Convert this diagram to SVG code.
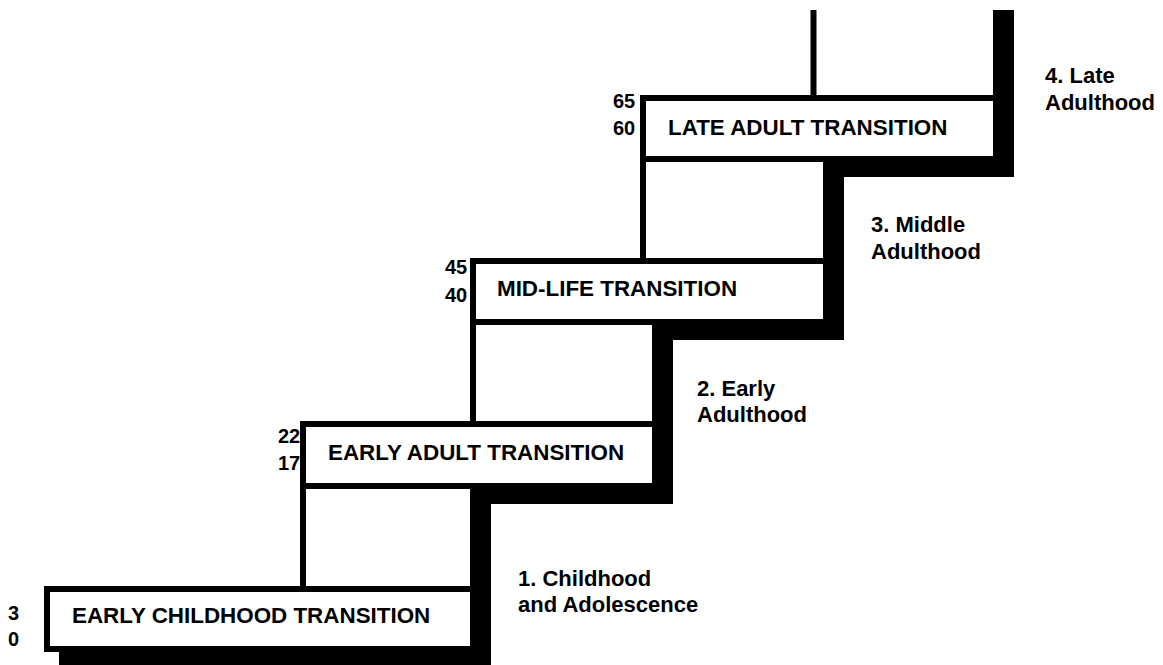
<svg xmlns="http://www.w3.org/2000/svg" width="1163" height="665" viewBox="0 0 1163 665">
<style>
.sh{fill:#000;stroke:none}
.st{fill:#fff;stroke:#000;stroke-width:6}
.bt{font-family:"Liberation Sans",Arial,sans-serif;font-weight:bold;font-size:22.4px;fill:#000}
.lb{font-family:"Liberation Sans",Arial,sans-serif;font-weight:bold;font-size:22px;fill:#000}
.nm{font-family:"Liberation Sans",Arial,sans-serif;font-weight:bold;font-size:20px;fill:#000}
</style>
<rect width="1163" height="665" fill="#fff"/>
<g id="shadows">
<rect class="sh" x="59" y="601" width="432" height="66"/>
<rect class="sh" x="315" y="498" width="176" height="109"/>
<rect class="sh" x="315" y="436" width="358" height="68"/>
<rect class="sh" x="485" y="334" width="188" height="108"/>
<rect class="sh" x="485" y="273" width="359" height="67"/>
<rect class="sh" x="655" y="171" width="189" height="108"/>
<rect class="sh" x="655" y="110" width="359" height="67"/>
<rect class="sh" x="996" y="10" width="18" height="103"/>
</g>
<g id="connectors">
<rect class="st" x="303" y="486" width="170" height="103"/>
<rect class="st" x="473" y="322" width="182" height="102"/>
<rect class="st" x="643" y="159" width="183" height="102"/>
<rect x="813" y="10" width="183" height="88" fill="#fff"/>
<path d="M813.5,10 V98 M996,10 V98" fill="none" stroke="#000" stroke-width="6"/>
</g>
<g id="step1">
<rect class="st" x="47" y="589" width="426" height="60"/>
<text class="bt" x="72" y="623">EARLY CHILDHOOD TRANSITION</text>
<text class="nm" x="8" y="620">3</text>
<text class="nm" x="8" y="646">0</text>
<text class="lb" x="518" y="586">1. Childhood</text>
<text class="lb" x="518" y="612">and Adolescence</text>
</g>
<g id="step2">
<rect class="st" x="303" y="424" width="352" height="62"/>
<text class="bt" x="328" y="460">EARLY ADULT TRANSITION</text>
<text class="nm" x="278" y="443">22</text>
<text class="nm" x="278" y="470">17</text>
<text class="lb" x="697" y="396">2. Early</text>
<text class="lb" x="697" y="422">Adulthood</text>
</g>
<g id="step3">
<rect class="st" x="473" y="261" width="353" height="61"/>
<text class="bt" x="497" y="296">MID-LIFE TRANSITION</text>
<text class="nm" x="445" y="274">45</text>
<text class="nm" x="445" y="302">40</text>
<text class="lb" x="871" y="232">3. Middle</text>
<text class="lb" x="871" y="259">Adulthood</text>
</g>
<g id="step4">
<rect class="st" x="643" y="98" width="353" height="61"/>
<text class="bt" x="668" y="135">LATE ADULT TRANSITION</text>
<text class="nm" x="613" y="108">65</text>
<text class="nm" x="613" y="135">60</text>
<text class="lb" x="1045" y="83">4. Late</text>
<text class="lb" x="1045" y="110">Adulthood</text>
</g>
</svg>
